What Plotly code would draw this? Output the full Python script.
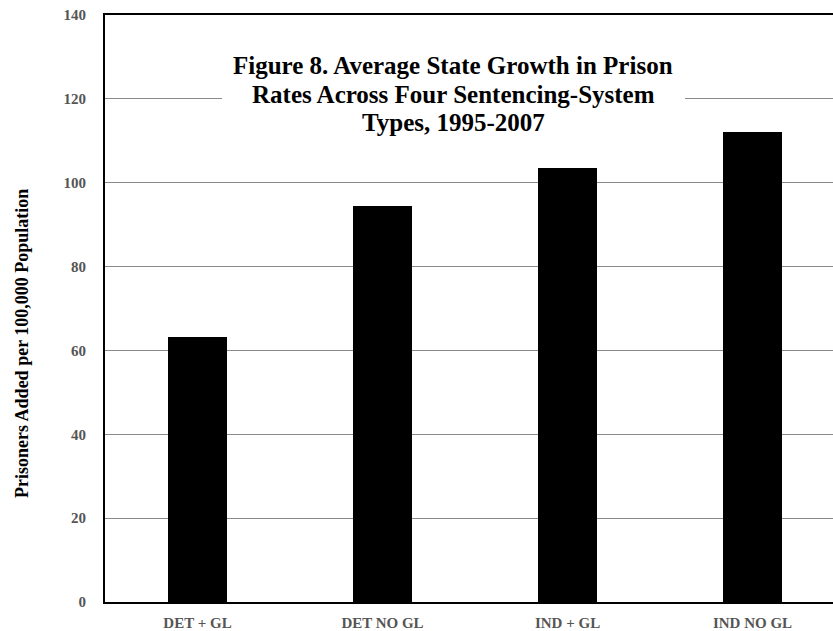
import plotly.graph_objects as go

categories = ["DET + GL", "DET NO GL", "IND + GL", "IND NO GL"]
values = [63.2, 94.4, 103.4, 112.0]
y_ticks = [0, 20, 40, 60, 80, 100, 120, 140]

title_lines = ["Figure 8. Average State Growth in Prison",
               "Rates Across Four Sentencing-System",
               "Types, 1995-2007"]
y_title = "Prisoners Added per 100,000 Population"

W, H = 833, 631
ML, MR, MT, MB = 105, 0, 15, 27
pw = W - ML - MR
ph = H - MT - MB

def px_x(x):
    return (x - ML) / pw

def px_y(y):
    return 1 - (y - MT) / ph

font_fam = "Liberation Serif, Times New Roman, serif"

fig = go.Figure(go.Bar(
    x=categories, y=values, width=0.32,
    marker=dict(color="black", line=dict(width=0)),
))

fig.update_layout(
    width=W, height=H,
    margin=dict(l=ML, r=MR, t=MT, b=MB, pad=0),
    plot_bgcolor="white", paper_bgcolor="white",
    showlegend=False,
    font=dict(family=font_fam),
    bargap=0,
)
fig.update_xaxes(
    range=[-0.5, 3.435], showgrid=False,
    showline=True, linecolor="black", linewidth=2, mirror=True,
    ticks="", tickfont=dict(family=font_fam, size=15, color="#555555", weight="bold"),
    ticklabelstandoff=6,
)
fig.update_yaxes(
    range=[0, 140], tickvals=y_ticks,
    showgrid=True, gridcolor="#8a8a8a", gridwidth=1,
    showline=True, linecolor="black", linewidth=2,
    ticks="", tickfont=dict(family=font_fam, size=15, color="#555555", weight="bold"),
    ticklabelstandoff=14, zeroline=False,
)

# white box behind the title, masking the gridline
fig.add_annotation(
    text=" ", xref="paper", yref="paper",
    x=px_x(453.5), y=px_y(92), xanchor="center", yanchor="middle",
    width=463, height=90, bgcolor="white", borderpad=0, borderwidth=0,
    showarrow=False,
)

for i, line in enumerate(title_lines):
    fig.add_annotation(
        text=line, xref="paper", yref="paper",
        x=px_x(453), y=px_y(66 + 28.5 * i), xanchor="center", yanchor="middle",
        showarrow=False,
        font=dict(family=font_fam, size=25, color="black", weight="bold"),
    )

fig.add_annotation(
    text=y_title, xref="paper", yref="paper",
    x=px_x(22), y=px_y(345), xanchor="center", yanchor="middle",
    textangle=-90, showarrow=False,
    font=dict(family=font_fam, size=18, color="black", weight="bold"),
)

fig.write_html("out.html", config={"displayModeBar": False},
               post_script="document.body.style.margin='0';")
